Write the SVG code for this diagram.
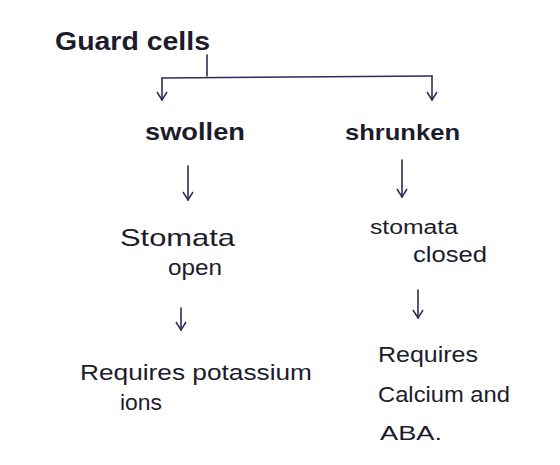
<svg xmlns="http://www.w3.org/2000/svg" width="560" height="465" viewBox="0 0 560 465">
<defs>
<style>
.t{font-family:"Liberation Sans","DejaVu Sans",sans-serif;fill:#1c1c2c;}
.b{font-weight:bold;}
.c{stroke:#2a2c5a;stroke-width:1.6;fill:none;stroke-linecap:round;stroke-linejoin:round;}
</style>
<marker id="ah" viewBox="0 0 12 12" refX="6" refY="11" markerWidth="12" markerHeight="12" markerUnits="userSpaceOnUse" orient="auto-start-reverse">
<path d="M1,3 L6,11 L11,3" fill="none" stroke="#2a2c5a" stroke-width="1.5"/>
</marker>
<marker id="av" viewBox="0 0 12 12" refX="6" refY="11" markerWidth="12" markerHeight="12" markerUnits="userSpaceOnUse" orient="0">
<path d="M1,3 L6,11 L11,3" fill="none" stroke="#2a2c5a" stroke-width="1.5"/>
</marker>
</defs>
<rect width="560" height="465" fill="#ffffff"/>
<g id="connectors">
<path class="c" d="M207,55 L207,76"/>
<path class="c" d="M162,78 L432,76"/>
<path class="c" d="M162,78 L162,100" marker-end="url(#av)"/>
<path class="c" d="M432,76 L432,100" marker-end="url(#av)"/>
<path class="c" d="M188,166 L188,200" marker-end="url(#av)"/>
<path class="c" d="M402,160 L402,197" marker-end="url(#av)"/>
<path class="c" d="M181,308 L181,330" marker-end="url(#av)"/>
<path class="c" d="M418,290 L418,318" marker-end="url(#av)"/>
</g>
<g id="guard-cells"><text class="t b" x="55" y="50" font-size="26" textLength="155" lengthAdjust="spacingAndGlyphs">Guard cells</text></g>
<g id="swollen"><text class="t b" x="145" y="140" font-size="24" textLength="100" lengthAdjust="spacingAndGlyphs">swollen</text></g>
<g id="shrunken"><text class="t b" x="345" y="140" font-size="22" textLength="115" lengthAdjust="spacingAndGlyphs">shrunken</text></g>
<g id="stomata-open">
<text class="t" x="120" y="246" font-size="24" textLength="115" lengthAdjust="spacingAndGlyphs">Stomata</text>
<text class="t" x="168" y="275" font-size="22" textLength="54" lengthAdjust="spacingAndGlyphs">open</text>
</g>
<g id="stomata-closed">
<text class="t" x="370" y="234" font-size="20" textLength="88" lengthAdjust="spacingAndGlyphs">stomata</text>
<text class="t" x="413" y="262" font-size="22" textLength="74" lengthAdjust="spacingAndGlyphs">closed</text>
</g>
<g id="requires-potassium">
<text class="t" x="80" y="380" font-size="22" textLength="232" lengthAdjust="spacingAndGlyphs">Requires potassium</text>
<text class="t" x="120" y="410" font-size="22" textLength="42" lengthAdjust="spacingAndGlyphs">ions</text>
</g>
<g id="requires-calcium">
<text class="t" x="378" y="362" font-size="22" textLength="100" lengthAdjust="spacingAndGlyphs">Requires</text>
<text class="t" x="378" y="402" font-size="22" textLength="132" lengthAdjust="spacingAndGlyphs">Calcium and</text>
<text class="t" x="380" y="440" font-size="20" textLength="62" lengthAdjust="spacingAndGlyphs">ABA.</text>
</g>
</svg>
